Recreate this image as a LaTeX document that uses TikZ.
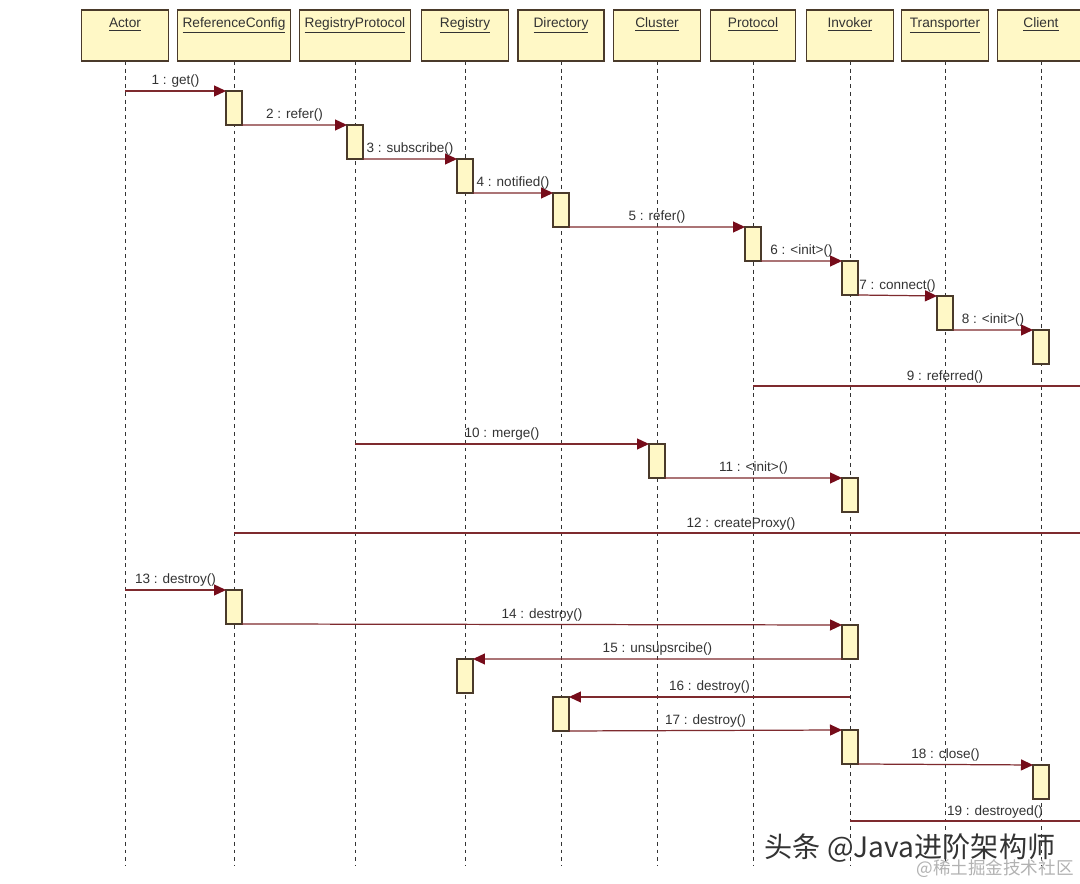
\documentclass[tikz,border=0pt]{standalone}
\usepackage{fontspec}
\setmainfont{Liberation Sans}
\newfontfamily\cjkfont{Noto Sans CJK SC}
\usepackage{tikz}
\usetikzlibrary{arrows.meta,positioning,calc}
\definecolor{boxyellow}{HTML}{FFF8C6}
\definecolor{boxbrown}{HTML}{4A3A2A}
\definecolor{msgred}{HTML}{7E2A2E}
\definecolor{tipred}{HTML}{760C1A}
\definecolor{labelgray}{HTML}{333333}
\tikzset{
  objbox/.style={draw=boxbrown, fill=boxyellow, line width=0.6pt, minimum height=1.02cm, inner sep=0pt},
  objname/.style={font=\fontsize{7.8}{9}\selectfont, text=labelgray, inner sep=0pt, anchor=base},
  lifeline/.style={draw=black!80, line width=0.5pt, dash pattern=on 2.2pt off 2.2pt},
  actbox/.style={draw=boxbrown, fill=boxyellow, line width=0.6pt, minimum width=0.32cm, minimum height=0.68cm, inner sep=0pt, outer sep=0pt, anchor=north},
  msg/.style={draw=msgred, line width=0.7pt, -{Triangle[length=2.4mm,width=2.2mm,color=tipred]}},
  msgline/.style={draw=msgred, line width=0.7pt},
  msglabel/.style={font=\fontsize{7.7}{9}\selectfont, text=labelgray, anchor=south, inner sep=1.5pt},
}

\begin{document}
\begin{tikzpicture}[x=0.02cm,y=-0.02cm]
  \clip (0,0) rectangle (1080,884);
  \fill[white] (0,0) rectangle (1080,884);

  % objects and their lifelines
  \foreach \n/\x/\w/\t in {actor/125/1.74/Actor, refconfig/234/2.26/ReferenceConfig, regprotocol/355/2.22/RegistryProtocol,
      registry/465/1.74/Registry, directory/561/1.72/Directory, cluster/657/1.74/Cluster, protocol/753/1.70/Protocol,
      invoker/850/1.74/Invoker, transporter/945/1.74/Transporter, client/1041/1.74/Client}{
    \draw[lifeline] (\x,61) -- (\x,865);
    \node[objbox, minimum width=\w cm] (\n) at (\x,35.5) {};
    \node[objname] (\n-name) at ([yshift=-0.36cm]\n.north) {\underline{\t}};
  }

  % activations
  \foreach \a/\o/\y in {a1/refconfig/91, a2/regprotocol/125, a3/registry/159, a4/directory/193,
      a5/protocol/227, a6/invoker/261, a7/transporter/296, a8/client/330, a9/cluster/444,
      a10/invoker/478, a11/refconfig/590, a12/invoker/625, a13/registry/659, a14/directory/697,
      a15/invoker/730, a16/client/765}
    \node[actbox] (\a) at (\o |- 0,\y) {};

  % reference creation
  \draw[msg] (actor |- a1.north) -- (a1.north west) node[msglabel, midway] (l1) {1 : get()};
  \draw[msg] (a1.south east) -- (a2.north west) node[msglabel, midway] (l2) {2 : refer()};
  \draw[msg] (a2.south east) -- (a3.north west) node[msglabel, midway] (l3) {3 : subscribe()};
  \draw[msg] (a3.south east) -- (a4.north west) node[msglabel, midway] (l4) {4 : notified()};
  \draw[msg] (a4.south east) -- (a5.north west) node[msglabel, midway] (l5) {5 : refer()};
  \draw[msg] (a5.south east) -- (a6.north west) node[msglabel, midway] (l6) {6 : <init>()};
  \draw[msg] (a6.south east) -- (a7.north west) node[msglabel, midway] (l7) {7 : connect()};
  \draw[msg] (a7.south east) -- (a8.north west) node[msglabel, midway] (l8) {8 : <init>()};
  \coordinate (e9) at (1080,386);
  \draw[msgline] (protocol |- e9) -- (e9);
  \node[msglabel] (l9) at (945,386) {9 : referred()};

  \draw[msg] (regprotocol |- a9.north) -- (a9.north west) node[msglabel, midway] (l10) {10 : merge()};
  \draw[msg] (a9.south east) -- (a10.north west) node[msglabel, midway] (l11) {11 : <init>()};
  \coordinate (e12) at (1080,533);
  \draw[msgline] (refconfig |- e12) -- (e12);
  \node[msglabel] (l12) at (741,533) {12 : createProxy()};

  % destroy
  \draw[msg] (actor |- a11.north) -- (a11.north west) node[msglabel, midway] (l13) {13 : destroy()};
  \draw[msg] (a11.south east) -- (a12.north west) node[msglabel, midway] (l14) {14 : destroy()};
  \draw[msg] (a12.south west) -- (a13.north east) node[msglabel, midway] (l15) {15 : unsupsrcibe()};
  \draw[msg] (invoker |- a14.north) -- (a14.north east) node[msglabel, midway] (l16) {16 : destroy()};
  \draw[msg] (a14.south east) -- (a15.north west) node[msglabel, midway] (l17) {17 : destroy()};
  \draw[msg] (a15.south east) -- (a16.north west) node[msglabel, midway] (l18) {18 : close()};
  \coordinate (e19) at (1080,821);
  \draw[msgline] (invoker |- e19) -- (e19);
  \node[msglabel] (l19) at (995,821) {19 : destroyed()};

  % watermarks
  \node[font=\cjkfont\fontsize{16}{18}\selectfont, text=black!80, inner sep=0pt] (mark) at (910,848) {头条 @Java进阶架构师};
  \node[font=\cjkfont\fontsize{10}{12}\selectfont, text=black!30, inner sep=0pt, anchor=east] (site) at (1074,869) {@稀土掘金技术社区};
\end{tikzpicture}
\end{document}
